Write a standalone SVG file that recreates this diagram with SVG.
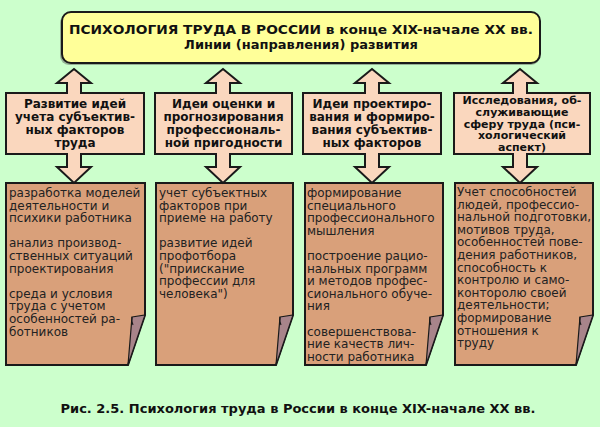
<svg xmlns="http://www.w3.org/2000/svg" width="600" height="427" viewBox="0 0 600 427">
<style>
.bg{fill:#CCFFCC}
.title{fill:#FFFF99;stroke:#1a1a1a;stroke-width:2}
.shadow{fill:#555;opacity:0.45}
.hdr{fill:#FAD7BE;stroke:#1a1a1a;stroke-width:2}
.paper{fill:#D9A07A;stroke:#1a1a1a;stroke-width:2;stroke-linejoin:miter}
.fold{fill:#A8848A;stroke:#1a1a1a;stroke-width:1.2}
.curl{fill:none;stroke:#1a1a1a;stroke-width:1.2}
.arr{fill:#FAD7BE;stroke:#1a1a1a;stroke-width:2;stroke-linejoin:miter}
.tt{font-family:"DejaVu Sans",Verdana,sans-serif;font-weight:bold;font-size:13px;fill:#111;text-anchor:middle}
.ht{font-family:"DejaVu Sans",Verdana,sans-serif;font-weight:bold;font-size:12px;fill:#111;text-anchor:middle}
.ht4{font-family:"DejaVu Sans",Verdana,sans-serif;font-weight:bold;font-size:11px;fill:#111;text-anchor:middle}
.pt{font-family:"DejaVu Sans",Verdana,sans-serif;font-size:12px;fill:#222}
.cap{font-family:"DejaVu Sans",Verdana,sans-serif;font-weight:bold;font-size:13px;fill:#111;text-anchor:middle}
</style>
<rect class="bg" x="0" y="0" width="600" height="427"/>

<g id="title">
<rect class="shadow" x="60" y="14" width="480" height="51" rx="9"/>
<rect class="title" x="62" y="12" width="478" height="51" rx="9"/>
<text class="tt" x="301" y="34" textLength="464" lengthAdjust="spacingAndGlyphs">ПСИХОЛОГИЯ ТРУДА В РОССИИ в конце XIX-начале XX вв.</text>
<text class="tt" x="301" y="48.5">Линии (направления) развития</text>
</g>

<g id="header1">
<rect class="hdr" x="6" y="93" width="138" height="61"/>
<text class="ht" x="75" y="108">Развитие идей</text>
<text class="ht" x="75" y="121">учета субъектив-</text>
<text class="ht" x="75" y="134">ных факторов</text>
<text class="ht" x="75" y="147">труда</text>
</g>
<g id="header2">
<rect class="hdr" x="155" y="93" width="137" height="61"/>
<text class="ht" x="223.5" y="108">Идеи оценки и</text>
<text class="ht" x="223.5" y="121">прогнозирования</text>
<text class="ht" x="223.5" y="134">профессиональ-</text>
<text class="ht" x="223.5" y="147">ной пригодности</text>
</g>
<g id="header3">
<rect class="hdr" x="303" y="93" width="138" height="61"/>
<text class="ht" x="372" y="108">Идеи проектиро-</text>
<text class="ht" x="372" y="121">вания и формиро-</text>
<text class="ht" x="372" y="134">вания субъектив-</text>
<text class="ht" x="372" y="147">ных факторов</text>
</g>
<g id="header4">
<rect class="hdr" x="454" y="93" width="136" height="61"/>
<text class="ht4" x="522" y="104">Исследования, об-</text>
<text class="ht4" x="522" y="115.8">служивающие</text>
<text class="ht4" x="522" y="127.6">сферу труда (пси-</text>
<text class="ht4" x="522" y="139.4">хологический</text>
<text class="ht4" x="522" y="151">аспект)</text>
</g>

<g id="paper1">
<path class="paper" d="M6,183 H145 V315 L128,365 H6 Z"/>
<path class="fold" d="M132,317 L145,315 L128,365 Z"/>
<path class="curl" d="M132,317 q-1,4 1,8"/>
<text class="pt" x="9" y="197">разработка моделей</text>
<text class="pt" x="9" y="209.6">деятельности и</text>
<text class="pt" x="9" y="222.2">психики работника</text>
<text class="pt" x="9" y="247.4">анализ производ-</text>
<text class="pt" x="9" y="260">ственных ситуаций</text>
<text class="pt" x="9" y="272.6">проектирования</text>
<text class="pt" x="9" y="297.8">среда и условия</text>
<text class="pt" x="9" y="310.4">труда с учетом</text>
<text class="pt" x="9" y="323">особенностей ра-</text>
<text class="pt" x="9" y="335.6">ботников</text>
</g>
<g id="paper2">
<path class="paper" d="M156,183 H293 V315 L276,365 H156 Z"/>
<path class="fold" d="M280,317 L293,315 L276,365 Z"/>
<path class="curl" d="M280,317 q-1,4 1,8"/>
<text class="pt" x="159" y="197">учет субъектных</text>
<text class="pt" x="159" y="209.6">факторов при</text>
<text class="pt" x="159" y="222.2">приеме на работу</text>
<text class="pt" x="159" y="247.4">развитие идей</text>
<text class="pt" x="159" y="260">профотбора</text>
<text class="pt" x="159" y="272.6">("приискание</text>
<text class="pt" x="159" y="285.2">профессии для</text>
<text class="pt" x="159" y="297.8">человека")</text>
</g>
<g id="paper3">
<path class="paper" d="M305,183 H443 V315 L426,365 H305 Z"/>
<path class="fold" d="M430,317 L443,315 L426,365 Z"/>
<path class="curl" d="M430,317 q-1,4 1,8"/>
<text class="pt" x="307" y="197">формирование</text>
<text class="pt" x="307" y="209.6">специального</text>
<text class="pt" x="307" y="222.2">профессионального</text>
<text class="pt" x="307" y="234.8">мышления</text>
<text class="pt" x="307" y="260">построение рацио-</text>
<text class="pt" x="307" y="272.6">нальных программ</text>
<text class="pt" x="307" y="285.2">и методов профес-</text>
<text class="pt" x="307" y="297.8">сионального обуче-</text>
<text class="pt" x="307" y="310.4">ния</text>
<text class="pt" x="307" y="335.6">совершенствова-</text>
<text class="pt" x="307" y="348.2">ние качеств лич-</text>
<text class="pt" x="307" y="360.8">ности работника</text>
</g>
<g id="paper4">
<path class="paper" d="M455,183 H593 V315 L576,365 H455 Z"/>
<path class="fold" d="M580,317 L593,315 L576,365 Z"/>
<path class="curl" d="M580,317 q-1,4 1,8"/>
<text class="pt" x="457" y="196">Учет способностей</text>
<text class="pt" x="457" y="208.6">людей, профессио-</text>
<text class="pt" x="457" y="221.2">нальной подготовки,</text>
<text class="pt" x="457" y="233.8">мотивов труда,</text>
<text class="pt" x="457" y="246.4">особенностей пове-</text>
<text class="pt" x="457" y="259">дения работников,</text>
<text class="pt" x="457" y="271.6">способность к</text>
<text class="pt" x="457" y="284.2">контролю и само-</text>
<text class="pt" x="457" y="296.8">конторолю своей</text>
<text class="pt" x="457" y="309.4">деятельности;</text>
<text class="pt" x="457" y="322">формирование</text>
<text class="pt" x="457" y="334.6">отношения к</text>
<text class="pt" x="457" y="347.2">труду</text>
</g>

<g id="connectors">
<path class="arr" d="M67,94 V83 H57 L74,69 L91,83 H81 V94"/>
<path class="arr" d="M216,94 V83 H206 L223,69 L240,83 H230 V94"/>
<path class="arr" d="M365,94 V83 H355 L372,69 L389,83 H379 V94"/>
<path class="arr" d="M513,94 V83 H503 L520,69 L537,83 H527 V94"/>
<path class="arr" d="M67,153 V167 H57 L74,183 L91,167 H81 V153"/>
<path class="arr" d="M216,153 V167 H206 L223,183 L240,167 H230 V153"/>
<path class="arr" d="M365,153 V167 H355 L372,183 L389,167 H379 V153"/>
<path class="arr" d="M513,153 V167 H503 L520,183 L537,167 H527 V153"/>
</g>

<text class="cap" x="298" y="413">Рис. 2.5. Психология труда в России в конце XIX-начале XX вв.</text>
</svg>
